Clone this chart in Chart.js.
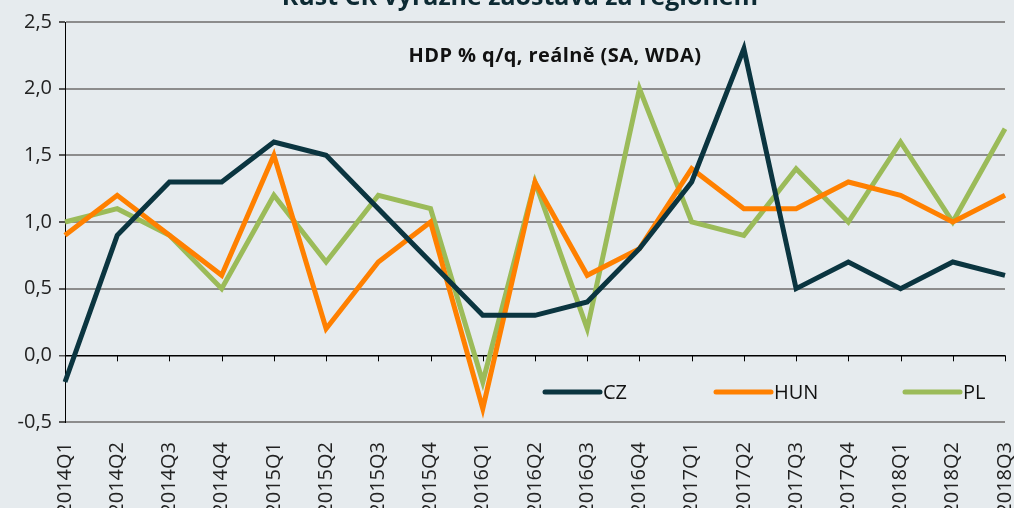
<!DOCTYPE html>
<html>
<head>
<meta charset="utf-8">
<script src="https://cdn.jsdelivr.net/npm/chart.js@4"></script>
<style>
    html, body { margin: 0; padding: 0; background: #e6ebee; }
    #wrap { width: 1014px; height: 508px; }
</style>
</head>
<body>
<div id="wrap"><canvas id="myChart" width="1014" height="508"></canvas></div>
<script>
// Данные
const quarters = ["2014Q1", "2014Q2", "2014Q3", "2014Q4", "2015Q1", "2015Q2", "2015Q3", "2015Q4",
    "2016Q1", "2016Q2", "2016Q3", "2016Q4", "2017Q1", "2017Q2", "2017Q3", "2017Q4",
    "2018Q1", "2018Q2", "2018Q3"];
const cz = [-0.2, 0.9, 1.3, 1.3, 1.6, 1.5, 1.1, 0.7, 0.3, 0.3, 0.4, 0.8, 1.3, 2.3, 0.5, 0.7, 0.5, 0.7, 0.6];
const hun = [0.9, 1.2, 0.9, 0.6, 1.5, 0.2, 0.7, 1.0, -0.4, 1.3, 0.6, 0.8, 1.4, 1.1, 1.1, 1.3, 1.2, 1.0, 1.2];
const pl = [1.0, 1.1, 0.9, 0.5, 1.2, 0.7, 1.2, 1.1, -0.2, 1.3, 0.2, 2.0, 1.0, 0.9, 1.4, 1.0, 1.6, 1.0, 1.7];
const yTicks = [-0.5, 0, 0.5, 1, 1.5, 2, 2.5];

const title = "Růst ČR výrazně zaostává za regionem";
const subtitle = "HDP % q/q, reálně (SA, WDA)";

// Заголовки, легенда и засечки на нулевой линии
const extras = {
    id: "extras",
    afterDraw(chart) {
        const c = chart.ctx;
        const x = chart.scales.x;
        const y = chart.scales.y;
        c.save();
        c.fillStyle = "#0d2a33";
        c.font = "bold 25px 'Open Sans'";
        c.textAlign = "center";
        c.textBaseline = "alphabetic";
        c.fillText(title, 520, 5);

        c.fillStyle = "#111";
        c.font = "bold 20px 'Open Sans'";
        c.letterSpacing = "0.4px";
        c.fillText(subtitle, 555, 62);
        c.letterSpacing = "0px";

        // засечки оси X на нуле
        const y0 = y.getPixelForValue(0);
        c.strokeStyle = "#000";
        c.lineWidth = 1;
        for (let i = 1; i < quarters.length; i++) {
            const px = Math.round(x.getPixelForValue(i)) + 0.5;
            c.beginPath();
            c.moveTo(px, y0);
            c.lineTo(px, y0 + 6);
            c.stroke();
        }

        // легенда
        const items = [[545, 0], [716, 1], [905, 2]];
        c.font = "20px 'Open Sans'";
        c.textAlign = "left";
        c.textBaseline = "middle";
        c.lineCap = "round";
        items.forEach(([lx, idx]) => {
            const ds = chart.data.datasets[idx];
            c.strokeStyle = ds.borderColor;
            c.lineWidth = 5;
            c.beginPath();
            c.moveTo(lx, 392);
            c.lineTo(lx + 55, 392);
            c.stroke();
            c.fillStyle = "#111";
            c.fillText(ds.label, lx + 58, 393);
        });
        c.restore();
    }
};

const ctx = document.getElementById("myChart").getContext("2d");
const chart = new Chart(ctx, {
    type: "line",
    data: {
        labels: quarters,
        datasets: [
            { label: "CZ", data: cz, borderColor: "#0b3540" },
            { label: "HUN", data: hun, borderColor: "#ff8000" },
            { label: "PL", data: pl, borderColor: "#9bbb59" }
        ].map(d => Object.assign(d, {
            borderWidth: 5,
            pointRadius: 0,
            fill: false,
            tension: 0,
            borderJoinStyle: "miter"
        }))
    },
    options: {
        responsive: false,
        animation: false,
        layout: { padding: { top: 22, right: 9, left: 0, bottom: 0 } },
        plugins: {
            legend: { display: false },
            title: { display: false },
            tooltip: { enabled: false }
        },
        scales: {
            x: {
                offset: false,
                grid: { display: false },
                border: { display: false },
                afterFit: (s) => { s.height = 86; s.paddingLeft = 0; s.paddingRight = 0; },
                ticks: {
                    autoSkip: false,
                    minRotation: 90,
                    maxRotation: 90,
                    padding: 12,
                    color: "#222",
                    font: { family: "'Open Sans'", size: 20 }
                }
            },
            y: {
                min: -0.5,
                max: 2.5,
                afterFit: (s) => { s.width = 65; },
                afterBuildTicks: (s) => { s.ticks = yTicks.map(v => ({ value: v })); },
                border: { color: "#000", width: 1 },
                grid: {
                    color: (c) => c.tick && c.tick.value === 0 ? "#000" : "#8c8c8c",
                    lineWidth: (c) => c.tick && c.tick.value === 0 ? 1.5 : 2,
                    tickLength: 6,
                    tickColor: "#555"
                },
                ticks: {
                    padding: 7,
                    color: "#222",
                    font: { family: "'Open Sans'", size: 20 },
                    callback: (v) => v.toFixed(1).replace(".", ",")
                }
            }
        }
    },
    plugins: [extras]
});
</script>
</body>
</html>
